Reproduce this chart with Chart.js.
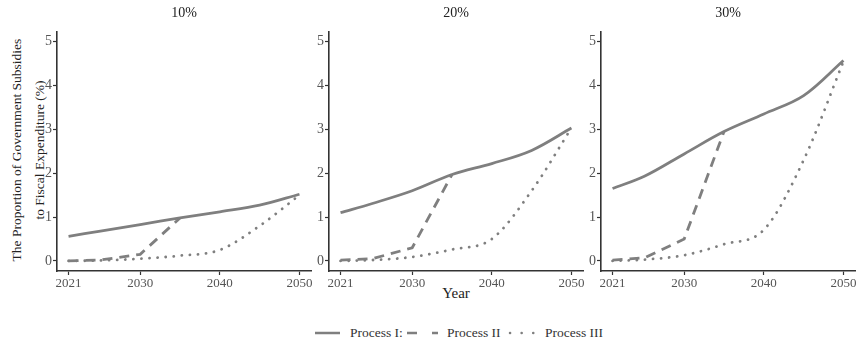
<!DOCTYPE html>
<html>
<head>
<meta charset="utf-8">
<script src="https://cdn.jsdelivr.net/npm/chart.js@4.4.0/dist/chart.umd.min.js"></script>
<style>
    body { margin: 0; background: #fff; font-family: "Liberation Serif", serif; }
    #wrap { position: relative; width: 858px; height: 341px; overflow: hidden; }
    .panel { position: absolute; top: 0; }
    .title { position: absolute; top: 5px; width: 80px; text-align: center; font-size: 14px; color: #222; }
    #ytitle {
        position: absolute; left: 28px; top: 150px; width: 260px;
        transform: translate(-50%, -50%) rotate(-90deg);
        text-align: center; font-size: 13.5px; line-height: 23px; color: #222; white-space: nowrap;
    }
    #xtitle { position: absolute; left: 416px; top: 285px; width: 80px; text-align: center; font-size: 15px; color: #222; }
    .lg { position: absolute; top: 325px; font-size: 13.5px; color: #333; line-height: 16px; }
    .lk { position: absolute; top: 328px; }
</style>
</head>
<body>
<div id="wrap">
    <div id="ytitle">The Proportion of Government Subsidies<br>to Fiscal Expenditure (%)</div>
    <div id="xtitle">Year</div>
    <svg class="lk" style="left:315px" width="25" height="10"><line x1="0" y1="5" x2="25" y2="5" stroke="#7f7f7f" stroke-width="2.5"/></svg>
    <div class="lg" style="left:350px">Process I:</div>
    <svg class="lk" style="left:407px" width="31" height="10"><line x1="0" y1="5" x2="31" y2="5" stroke="#7f7f7f" stroke-width="2.5" stroke-dasharray="10 15"/></svg>
    <div class="lg" style="left:447px">Process II</div>
    <svg class="lk" style="left:507px" width="28" height="10"><line x1="3" y1="5" x2="27" y2="5" stroke="#7f7f7f" stroke-width="2.5" stroke-linecap="round" stroke-dasharray="0.1 11.5"/></svg>
    <div class="lg" style="left:545px">Process III</div>
</div>
<script>
// Data
const years = [2021, 2025, 2030, 2035, 2040, 2045, 2050];
const xTicks = [2021, 2030, 2040, 2050];
const yTicks = [0, 1, 2, 3, 4, 5];
const panelTitles = ['10%', '20%', '30%'];

const proc1_10 = [0.56, 0.68, 0.83, 0.98, 1.12, 1.27, 1.52];
const proc2_10 = [0, 0.02, 0.15, 0.98, null, null, null];
const proc3_10 = [0, 0.01, 0.05, 0.12, 0.25, 0.8, 1.5];

const proc1_20 = [1.1, 1.31, 1.6, 1.97, 2.22, 2.52, 3.03];
const proc2_20 = [0.02, 0.05, 0.3, 1.97, null, null, null];
const proc3_20 = [0, 0.02, 0.09, 0.26, 0.5, 1.6, 3.03];

const proc1_30 = [1.65, 1.93, 2.44, 2.95, 3.35, 3.77, 4.57];
const proc2_30 = [0.02, 0.07, 0.5, 2.95, null, null, null];
const proc3_30 = [0, 0.03, 0.13, 0.38, 0.71, 2.3, 4.55];

const panels = [
    [proc1_10, proc2_10, proc3_10],
    [proc1_20, proc2_20, proc3_20],
    [proc1_30, proc2_30, proc3_30]
];

const axisLeft = [57, 329, 601];
const plotWidth = 254;
const LINE = '#7f7f7f';
const AXIS = '#333';

Chart.defaults.font.family = "'Liberation Serif', serif";

function toPoints(vals) {
    return years.map((y, i) => ({ x: y, y: vals[i] }));
}

panels.forEach((series, idx) => {
    const wrap = document.getElementById('wrap');
    const div = document.createElement('div');
    div.className = 'panel';
    div.style.left = (axisLeft[idx] - 30) + 'px';
    const canvas = document.createElement('canvas');
    canvas.width = 30 + plotWidth + 8;
    canvas.height = 293;
    div.appendChild(canvas);
    wrap.appendChild(div);

    const t = document.createElement('div');
    t.className = 'title';
    t.textContent = panelTitles[idx];
    t.style.left = (axisLeft[idx] + plotWidth / 2 - 40) + 'px';
    wrap.appendChild(t);

    new Chart(canvas.getContext('2d'), {
        type: 'line',
        data: {
            datasets: [
                { label: 'Process I:', data: toPoints(series[0]), borderColor: LINE, borderWidth: 2.8,
                  tension: 0.35, pointRadius: 0 },
                { label: 'Process II', data: toPoints(series[1]), borderColor: LINE, borderWidth: 2.8,
                  borderDash: [10, 7], tension: 0, pointRadius: 0 },
                { label: 'Process III', data: toPoints(series[2]), borderColor: LINE, borderWidth: 2.8,
                  borderDash: [0.1, 8], borderCapStyle: 'round', cubicInterpolationMode: 'monotone', pointRadius: 0 }
            ]
        },
        options: {
            responsive: false,
            animation: false,
            layout: { padding: { top: 32, right: 8, left: 0, bottom: 0 } },
            plugins: { legend: { display: false }, tooltip: { enabled: false } },
            scales: {
                x: {
                    type: 'linear', min: 2019.55, max: 2051.45,
                    afterBuildTicks: s => { s.ticks = xTicks.map(v => ({ value: v })); },
                    afterFit: s => { s.height = 22; },
                    grid: { drawOnChartArea: false, color: AXIS, tickLength: 4, tickWidth: 1.2 },
                    border: { color: AXIS, width: 1.6 },
                    ticks: { color: '#555', font: { size: 13 }, padding: 1, maxRotation: 0,
                             callback: v => String(v) }
                },
                y: {
                    min: -0.23, max: 5.22,
                    afterBuildTicks: s => { s.ticks = yTicks.map(v => ({ value: v })); },
                    afterFit: s => { s.width = 30; },
                    grid: { drawOnChartArea: false, color: AXIS, tickLength: 4, tickWidth: 1.2 },
                    border: { color: AXIS, width: 1.6 },
                    ticks: { color: '#555', font: { size: 14 }, padding: 1, callback: v => String(v) }
                }
            }
        }
    });
});
</script>
</body>
</html>
